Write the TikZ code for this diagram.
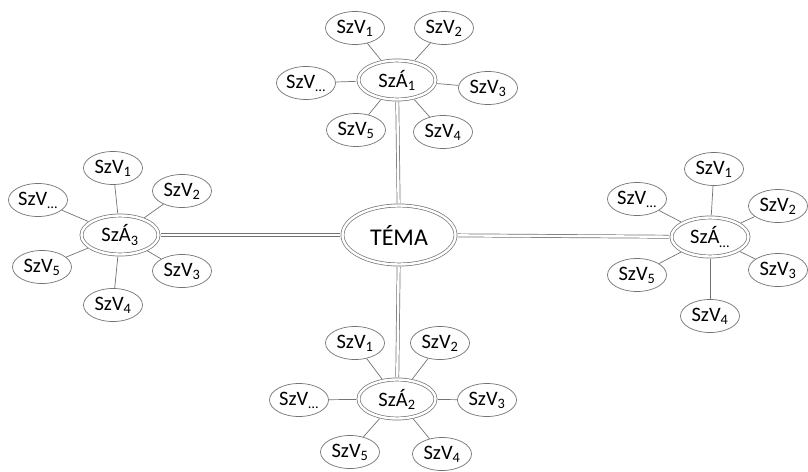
\documentclass[tikz,border=0pt]{standalone}
\usepackage{fontspec}
\setmainfont{Carlito}
\usetikzlibrary{shapes.geometric}
\definecolor{linegray}{RGB}{115,115,115}

\begin{document}
\begin{tikzpicture}[x=1pt, y=-1pt]
			\tikzset{
				szv/.style={ellipse, draw=linegray, line width=0.7pt, minimum width=59pt, minimum height=33pt, inner sep=0pt, font={\fontsize{20.5}{24}\selectfont}},
				sza/.style={szv, double=white, double distance=2.4pt, minimum width=77pt, minimum height=39pt},
				tema/.style={sza, minimum width=113pt, minimum height=59pt, font={\fontsize{24}{28}\selectfont}},
				spoke/.style={draw=linegray, line width=0.7pt, shorten <=2pt},
				trunk/.style={draw=linegray, line width=0.7pt, double=white, double distance=2.4pt, shorten <=2pt, shorten >=2pt},
			}

			\useasboundingbox (0,0) rectangle (808,471);

			\node[tema] (tema) at (399,235) {TÉMA};

			% top
			\node[sza] (sza1) at (397,80) {SzÁ\textsubscript{1}};
			\node[szv] (sza1-1) at (355,28) {SzV\textsubscript{1}};
			\node[szv] (sza1-2) at (444,28) {SzV\textsubscript{2}};
			\node[szv] (sza1-3) at (488,88) {SzV\textsubscript{3}};
			\node[szv] (sza1-4) at (443,132) {SzV\textsubscript{4}};
			\node[szv] (sza1-5) at (356,130) {SzV\textsubscript{5}};
			\node[szv] (sza1-x) at (306,83) {SzV\textsubscript{…}};

			% bottom
			\node[sza] (sza2) at (397,399) {SzÁ\textsubscript{2}};
			\node[szv] (sza2-1) at (355,343) {SzV\textsubscript{1}};
			\node[szv] (sza2-2) at (440,343) {SzV\textsubscript{2}};
			\node[szv] (sza2-3) at (487,400) {SzV\textsubscript{3}};
			\node[szv] (sza2-4) at (442,454) {SzV\textsubscript{4}};
			\node[szv] (sza2-5) at (350,452) {SzV\textsubscript{5}};
			\node[szv] (sza2-x) at (299,400) {SzV\textsubscript{…}};

			% left
			\node[sza] (sza3) at (120,235) {SzÁ\textsubscript{3}};
			\node[szv] (sza3-1) at (113,168) {SzV\textsubscript{1}};
			\node[szv] (sza3-2) at (182,191) {SzV\textsubscript{2}};
			\node[szv] (sza3-3) at (182,271) {SzV\textsubscript{3}};
			\node[szv] (sza3-4) at (113,305) {SzV\textsubscript{4}};
			\node[szv] (sza3-5) at (42,267) {SzV\textsubscript{5}};
			\node[szv] (sza3-x) at (38,200) {SzV\textsubscript{…}};

			% right
			\node[sza] (szax) at (710,237) {SzÁ\textsubscript{…}};
			\node[szv] (szax-1) at (714,169) {SzV\textsubscript{1}};
			\node[szv] (szax-2) at (778,206) {SzV\textsubscript{2}};
			\node[szv] (szax-3) at (778,270) {SzV\textsubscript{3}};
			\node[szv] (szax-4) at (710,316) {SzV\textsubscript{4}};
			\node[szv] (szax-5) at (637,275) {SzV\textsubscript{5}};
			\node[szv] (szax-x) at (637,199) {SzV\textsubscript{…}};

			\foreach \a in {sza1, sza2, sza3, szax}
				{
					\draw[trunk] (tema) -- (\a);
					\foreach \v in {1, 2, 3, 4, 5, x}
						\draw[spoke] (\a) -- (\a-\v);
				}

		\end{tikzpicture}
\end{document}
